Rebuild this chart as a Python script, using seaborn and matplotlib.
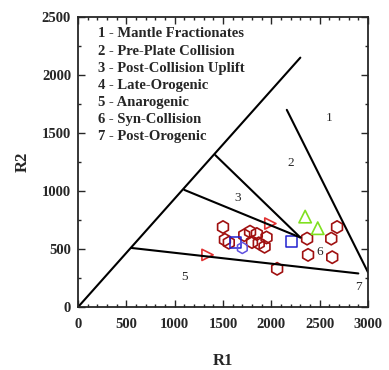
import seaborn as sns
import numpy as np
import pandas as pd
import matplotlib
matplotlib.use("Agg")
import matplotlib.pyplot as plt
from matplotlib.ticker import MultipleLocator

# field boundaries (R1, R2)
bound_origin_x = [0, 2300]
bound_origin_y = [0, 2150]
bound_5_x = [550, 2900]
bound_5_y = [510, 290]
bound_3_x = [1100, 2300]
bound_3_y = [1010, 600]
bound_2_x = [1420, 2300]
bound_2_y = [1310, 600]
bound_7_x = [2160, 3000]
bound_7_y = [1700, 300]

field_nums = ["1", "2", "3", "5", "6", "7"]
field_x = [2600, 2200, 1650, 1100, 2500, 2900]
field_y = [1630, 1240, 940, 260, 475, 170]

legend_lines = ["1 - Mantle Fractionates", "2 - Pre-Plate Collision",
                "3 - Post-Collision Uplift", "4 - Late-Orogenic",
                "5 - Anarogenic", "6 - Syn-Collision", "7 - Post-Orogenic"]

# samples
hex_x = [1500, 1520, 1560, 1720, 1780, 1800, 1850, 1870, 1930, 1950, 2060,
         2370, 2380, 2620, 2630, 2680]
hex_y = [690, 580, 555, 620, 650, 560, 630, 550, 520, 600, 330,
         590, 450, 590, 430, 690]
tri_r_x = [1340, 1990]
tri_r_y = [450, 720]
sq_x = [1630, 2210]
sq_y = [555, 565]
sq2_x = [1700]
sq2_y = [510]
tri_g_x = [2350, 2480]
tri_g_y = [780, 680]

sns.set_style("ticks")
plt.rcParams['font.family'] = ['Liberation Serif', 'DejaVu Serif']

fig = plt.figure(figsize=(3.89, 3.70), dpi=100)
ax = fig.add_axes([0.2005, 0.170, 0.7455, 0.784])

for bx, by in [(bound_origin_x, bound_origin_y), (bound_5_x, bound_5_y),
               (bound_3_x, bound_3_y), (bound_2_x, bound_2_y),
               (bound_7_x, bound_7_y)]:
    sns.lineplot(x=bx, y=by, ax=ax, color='black', lw=1.5, sort=False,
                 estimator=None, legend=False)

sns.scatterplot(x=hex_x, y=hex_y, ax=ax, marker='h', s=80, facecolor='none',
                edgecolor='#a01010', linewidth=1.2)
sns.scatterplot(x=tri_r_x, y=tri_r_y, ax=ax, marker='>', s=65, facecolor='none',
                edgecolor='#e03030', linewidth=1.2)
sns.scatterplot(x=sq_x, y=sq_y, ax=ax, marker='s', s=65, facecolor='none',
                edgecolor='#2020d0', linewidth=1.1)
sns.scatterplot(x=sq2_x, y=sq2_y, ax=ax, marker='h', s=65, facecolor='none',
                edgecolor='#6050e0', linewidth=1.1)
sns.scatterplot(x=tri_g_x, y=tri_g_y, ax=ax, marker='^', s=80, facecolor='none',
                edgecolor='#80e020', linewidth=1.2)

for t, x, y in zip(field_nums, field_x, field_y):
    ax.text(x, y, t, fontsize=9.5, ha='center', va='center')

for i, t in enumerate(legend_lines):
    ax.text(207, 2355 - i * 148, t, fontsize=10.5, fontweight='bold', va='center')

ax.set_xlim(0, 3000)
ax.set_ylim(0, 2500)
ax.xaxis.set_major_locator(MultipleLocator(500))
ax.xaxis.set_minor_locator(MultipleLocator(100))
ax.yaxis.set_major_locator(MultipleLocator(500))
ax.yaxis.set_minor_locator(MultipleLocator(250))
ax.tick_params(which='both', direction='in', top=True, right=True, width=1)
ax.tick_params(which='major', length=5, labelsize=10.5)
ax.tick_params(axis='x', which='major', pad=8)
ax.tick_params(axis='y', which='major', pad=5)
ax.tick_params(which='minor', length=2.5)
for lab in ax.get_xticklabels() + ax.get_yticklabels():
    lab.set_fontweight('bold')
for sp in ax.spines.values():
    sp.set_linewidth(1.3)

ax.set_xlabel('R1', fontsize=12, fontweight='bold', labelpad=16)
ax.set_ylabel('R2', fontsize=12, fontweight='bold', labelpad=8)

fig.savefig('out.png', dpi=100)
